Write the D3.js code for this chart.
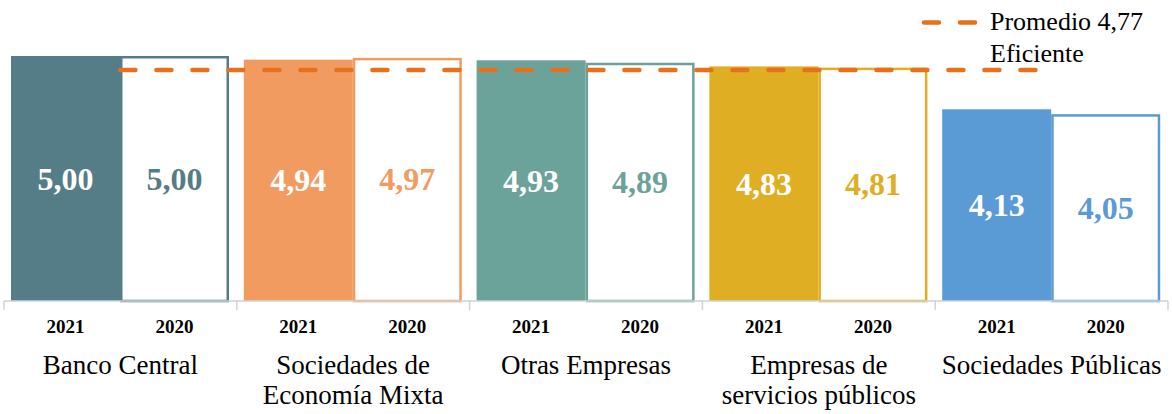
<!DOCTYPE html>
<html>
<head>
<meta charset="utf-8">
<script src="https://cdn.jsdelivr.net/npm/d3@7"></script>
<style>
  body { margin: 0; background: #fff; }
  svg { display: block; }
  svg text { font-family: "Times New Roman", "Liberation Serif", Tinos, Times, serif; }
</style>
</head>
<body>
<div id="chart"></div>
<script>
// data
var categories = [
  ["Banco Central"],
  ["Sociedades de", "Economía Mixta"],
  ["Otras Empresas"],
  ["Empresas de", "servicios públicos"],
  ["Sociedades Públicas"]
];
var years = ["2021", "2020"];
var values2021 = [5.00, 4.94, 4.93, 4.83, 4.13];
var values2020 = [5.00, 4.97, 4.89, 4.81, 4.05];
var colors = ["#557d88", "#f29b61", "#6ba39b", "#e0ae22", "#5b9bd5"];
var promedio = 4.77;
var legendLabel = ["Promedio 4,77", "Eficiente"];

var width = 1172, height = 414;

var svg = d3.select("#chart")
    .append("svg")
    .attr("width", width)
    .attr("height", height);

var names = categories.map(function(c) { return c.join(" "); });

var x0 = d3.scaleBand()
    .domain(names)
    .range([4, 1168]);

var x1 = d3.scaleBand()
    .domain(years)
    .range([7, 225]);

var y = d3.scaleLinear()
    .domain([1, 5])
    .range([301, 56]);

var fmt = function(v) { return v.toFixed(2).replace(".", ","); };

var rows = names.map(function(n, i) {
  return {name: n, lines: categories[i], color: colors[i],
          bars: [{year: "2021", v: values2021[i]}, {year: "2020", v: values2020[i]}]};
});

var groups = svg.selectAll(".grp")
    .data(rows)
    .enter().append("g")
    .attr("class", "grp")
    .attr("transform", function(d) { return "translate(" + x0(d.name) + ",0)"; });

// 2021 filled bars, 2020 outlined
groups.each(function(d) {
  var g = d3.select(this);
  d.bars.forEach(function(b) {
    var filled = b.year === "2021";
    var bx = x1(b.year), bw = x1.bandwidth();
    if (filled) {
      g.append("rect")
        .attr("x", bx).attr("y", y(b.v))
        .attr("width", bw).attr("height", y(1) - y(b.v))
        .attr("fill", d.color);
    } else {
      g.append("rect")
        .attr("x", bx + 1.25).attr("y", y(b.v) + 1.25)
        .attr("width", bw - 2.5).attr("height", y(1) - y(b.v) - 1.25)
        .attr("fill", "#fff")
        .attr("stroke", d.color)
        .attr("stroke-width", 2.5);
    }
    g.append("text")
      .attr("x", bx + bw / 2)
      .attr("y", (y(b.v) + y(1)) / 2 + 11)
      .attr("text-anchor", "middle")
      .style("font-size", "32px")
      .style("font-weight", "bold")
      .attr("fill", filled ? "#fff" : d.color)
      .text(fmt(b.v));

    g.append("text")
      .attr("x", bx + bw / 2)
      .attr("y", 333)
      .attr("text-anchor", "middle")
      .style("font-size", "19px")
      .style("font-weight", "bold")
      .attr("fill", "#000")
      .text(b.year);
  });

  d.lines.forEach(function(t, k) {
    g.append("text")
      .attr("x", x0.bandwidth() / 2)
      .attr("y", 374 + k * 30)
      .attr("text-anchor", "middle")
      .style("font-size", "27px")
      .attr("fill", "#000")
      .text(t);
  });
});

// category axis
svg.append("line")
    .attr("x1", x0.range()[0]).attr("x2", x0.range()[1])
    .attr("y1", y(1)).attr("y2", y(1))
    .attr("stroke", "#d0d4d6").attr("stroke-width", 1.5);

svg.selectAll(".tick")
    .data(names.concat(["end"]))
    .enter().append("line")
    .attr("x1", function(d) { return d === "end" ? x0.range()[1] : x0(d); })
    .attr("x2", function(d) { return d === "end" ? x0.range()[1] : x0(d); })
    .attr("y1", y(1)).attr("y2", y(1) + 9)
    .attr("stroke", "#d0d4d6").attr("stroke-width", 1.5);

// average line
var dashColor = "#e8701a";
svg.append("line")
    .attr("x1", x0(names[0]) + x0.bandwidth() / 2)
    .attr("x2", x0(names[names.length - 1]) + x0.bandwidth() / 2)
    .attr("y1", y(promedio)).attr("y2", y(promedio))
    .attr("stroke", dashColor)
    .attr("stroke-width", 4.5)
    .attr("stroke-linecap", "round")
    .attr("stroke-dasharray", "15,21");

// legend
svg.append("line")
    .attr("x1", 924).attr("x2", 976)
    .attr("y1", 22.5).attr("y2", 22.5)
    .attr("stroke", dashColor)
    .attr("stroke-width", 4.5)
    .attr("stroke-linecap", "round")
    .attr("stroke-dasharray", "15,21");

legendLabel.forEach(function(t, k) {
  svg.append("text")
    .attr("x", 990)
    .attr("y", 30 + k * 32)
    .style("font-size", "26px")
    .attr("fill", "#000")
    .text(t);
});
</script>
</body>
</html>
